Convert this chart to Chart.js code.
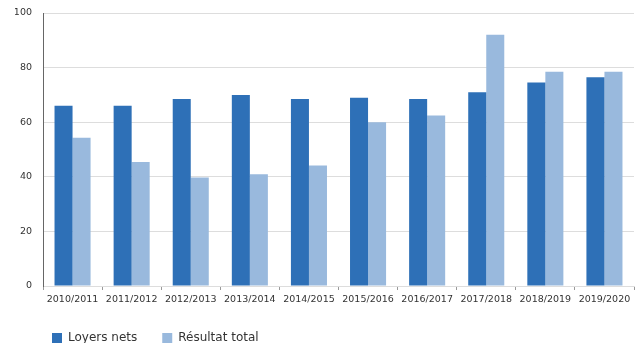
<!DOCTYPE html>
<html>
<head>
<meta charset="utf-8">
<script src="https://cdn.jsdelivr.net/npm/chart.js@4"></script>
<style>
html,body{margin:0;padding:0;background:#fff;}
#wrap{width:638px;height:347px;position:relative;}
</style>
</head>
<body>
<div id="wrap"><canvas id="c" width="638" height="347"></canvas></div>
<script>
const categories = ["2010/2011","2011/2012","2012/2013","2013/2014","2014/2015","2015/2016","2016/2017","2017/2018","2018/2019","2019/2020"];
const loyersNets = [66, 66, 68.5, 70, 68.5, 69, 68.5, 71, 74.5, 76.5];
const resultatTotal = [54.3, 45.4, 39.7, 40.9, 44.1, 60, 62.5, 92, 78.5, 78.5];
const seriesNames = ["Loyers nets", "Résultat total"];
const yTicks = [0, 20, 40, 60, 80, 100];

Chart.defaults.font.family = "'DejaVu Sans', sans-serif";
Chart.defaults.color = "#333";

const legendShift = {
  id: 'legendShift',
  afterLayout(chart) {
    if (chart.legend) { chart.legend.left += 12; chart.legend.right += 12; }
  }
};

new Chart(document.getElementById('c'), {
  type: 'bar',
  data: {
    labels: categories,
    datasets: [
      { label: seriesNames[0], data: loyersNets, backgroundColor: '#2e70b7', barPercentage: 1.0, categoryPercentage: 0.61 },
      { label: seriesNames[1], data: resultatTotal, backgroundColor: '#99b9dd', barPercentage: 1.0, categoryPercentage: 0.61 }
    ]
  },
  plugins: [legendShift],
  options: {
    responsive: false,
    animation: false,
    layout: { padding: { left: 15, right: 4, top: 0, bottom: 4 } },
    plugins: {
      legend: {
        position: 'bottom',
        align: 'start',
        maxHeight: 36,
        labels: { boxWidth: 10, boxHeight: 10, padding: 25, font: { size: 12 }, color: '#333' }
      },
      tooltip: { enabled: false }
    },
    scales: {
      x: {
        afterFit: (axis) => { axis.height = 21; },
        grid: { drawOnChartArea: false, drawTicks: true, tickLength: 4, color: '#999' },
        border: { color: '#ddd' },
        ticks: { font: { size: 9.5 }, color: '#333', padding: 4, maxRotation: 0, autoSkip: false }
      },
      y: {
        min: 0, max: 100,
        afterBuildTicks: (axis) => { axis.ticks = yTicks.map(v => ({ value: v })); },
        afterFit: (axis) => { axis.width = 28; axis.paddingTop = 13; axis.paddingBottom = 0; },
        grid: { color: '#ddd', drawTicks: false },
        border: { color: '#666', width: 1 },
        ticks: { font: { size: 9.5 }, color: '#333', padding: 11 }
      }
    }
  }
});
</script>
</body>
</html>
